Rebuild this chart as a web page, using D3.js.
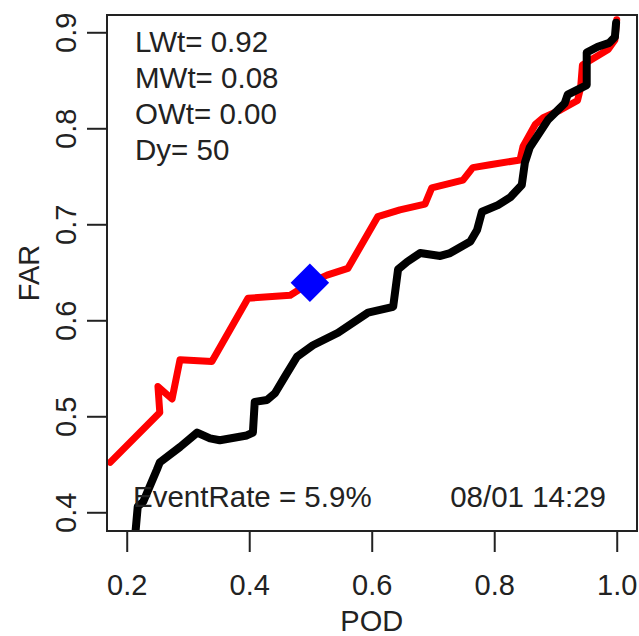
<!DOCTYPE html>
<html>
<head>
<meta charset="utf-8">
<script src="https://cdn.jsdelivr.net/npm/d3@7"></script>
<style>
  body { margin: 0; background: #fff; }
  svg text { font-family: "Liberation Sans", Arial, sans-serif; fill: #222; }
</style>
</head>
<body>
<svg id="chart" width="639" height="636"></svg>
<script>
// red curve (POD, FAR)
const redPod = [0.173, 0.254, 0.251, 0.274, 0.287, 0.339, 0.398, 0.467, 0.499, 0.527, 0.561, 0.610, 0.646, 0.687, 0.698, 0.749, 0.765, 0.793, 0.842, 0.847, 0.867, 0.880, 0.908, 0.936, 0.941, 0.944, 0.965, 0.986, 0.997, 1.000];
const redFar = [0.452, 0.504, 0.531, 0.518, 0.559, 0.557, 0.623, 0.626, 0.639, 0.647, 0.654, 0.708, 0.715, 0.721, 0.738, 0.746, 0.759, 0.762, 0.767, 0.781, 0.804, 0.811, 0.819, 0.829, 0.842, 0.866, 0.874, 0.882, 0.892, 0.913];

// black curve (POD, FAR)
const blackPod = [0.213, 0.218, 0.227, 0.249, 0.254, 0.287, 0.315, 0.336, 0.352, 0.396, 0.406, 0.409, 0.429, 0.442, 0.458, 0.478, 0.504, 0.545, 0.594, 0.635, 0.643, 0.658, 0.679, 0.712, 0.728, 0.761, 0.772, 0.780, 0.806, 0.826, 0.845, 0.850, 0.858, 0.888, 0.915, 0.920, 0.951, 0.951, 0.969, 0.988, 0.997, 0.999];
const blackFar = [0.370, 0.406, 0.411, 0.444, 0.452, 0.468, 0.483, 0.477, 0.475, 0.480, 0.483, 0.515, 0.517, 0.524, 0.541, 0.562, 0.574, 0.587, 0.608, 0.614, 0.653, 0.661, 0.670, 0.667, 0.670, 0.682, 0.694, 0.713, 0.720, 0.728, 0.741, 0.764, 0.780, 0.809, 0.826, 0.835, 0.845, 0.879, 0.885, 0.889, 0.895, 0.910];

// current point
const markPod = 0.499;
const markFar = 0.639;

const xTicks = [0.2, 0.4, 0.6, 0.8, 1.0];
const yTicks = [0.4, 0.5, 0.6, 0.7, 0.8, 0.9];

const infoLines = ["LWt= 0.92", "MWt= 0.08", "OWt= 0.00", "Dy= 50"];
const eventRate = "EventRate = 5.9%";
const stamp = "08/01 14:29";

const box = {left: 107, top: 15, right: 637, bottom: 531};

const svg = d3.select("#chart");

const x = d3.scaleLinear().domain([0.1678, 1.0331]).range([box.left, box.right]);
const y = d3.scaleLinear().domain([0.3805, 0.918]).range([box.bottom, box.top]);

svg.append("clipPath").attr("id", "plotclip")
  .append("rect")
    .attr("x", box.left).attr("y", box.top)
    .attr("width", box.right - box.left).attr("height", box.bottom - box.top);

const line = d3.line().x(d => x(d[0])).y(d => y(d[1]));

const plot = svg.append("g").attr("clip-path", "url(#plotclip)");

plot.append("path")
    .datum(d3.zip(redPod, redFar))
    .attr("d", line)
    .attr("fill", "none")
    .attr("stroke", "#ff0000")
    .attr("stroke-width", 7)
    .attr("stroke-linejoin", "round")
    .attr("stroke-linecap", "round");

plot.append("path")
    .datum(d3.zip(blackPod, blackFar))
    .attr("d", line)
    .attr("fill", "none")
    .attr("stroke", "#000")
    .attr("stroke-width", 8)
    .attr("stroke-linejoin", "round")
    .attr("stroke-linecap", "round");

plot.append("path")
    .attr("d", d3.symbol(d3.symbolSquare, 740)())
    .attr("transform", `translate(${x(markPod)},${y(markFar)}) rotate(45)`)
    .attr("fill", "#0000ff");

// frame
svg.append("rect")
    .attr("x", box.left).attr("y", box.top)
    .attr("width", box.right - box.left).attr("height", box.bottom - box.top)
    .attr("fill", "none").attr("stroke", "#222").attr("stroke-width", 2);

// x axis
const xAxis = svg.append("g").attr("transform", `translate(0,${box.bottom})`)
    .call(d3.axisBottom(x).tickValues(xTicks).tickFormat(d3.format(".1f")).tickSize(21).tickPadding(22));
xAxis.select(".domain").remove();
xAxis.selectAll("line").attr("stroke", "#222").attr("stroke-width", 2);
xAxis.selectAll("text").attr("font-size", 29).attr("fill", "#222");

// y axis, labels rotated like R
const yAxis = svg.append("g").attr("transform", `translate(${box.left},0)`)
    .call(d3.axisLeft(y).tickValues(yTicks).tickFormat(d3.format(".1f")).tickSize(20).tickPadding(0));
yAxis.select(".domain").remove();
yAxis.selectAll("line").attr("stroke", "#222").attr("stroke-width", 2);
yAxis.selectAll("text")
    .attr("font-size", 29).attr("fill", "#222")
    .attr("x", null).attr("dy", null)
    .attr("text-anchor", "middle")
    .attr("transform", "translate(-31,0) rotate(-90)");

svg.append("text")
    .attr("x", x(0.6)).attr("y", 631)
    .attr("text-anchor", "middle").attr("font-size", 29)
    .text("POD");

svg.append("text")
    .attr("transform", `translate(39,${(box.top + box.bottom) / 2}) rotate(-90)`)
    .attr("text-anchor", "middle").attr("font-size", 29)
    .text("FAR");

svg.selectAll(".info").data(infoLines).enter().append("text")
    .attr("class", "info")
    .attr("x", 135).attr("y", (d, i) => 52 + i * 36)
    .attr("font-size", 29.5)
    .text(d => d);

svg.append("text").attr("x", 133).attr("y", 507).attr("font-size", 29.5).text(eventRate);
svg.append("text").attr("x", 606).attr("y", 507).attr("font-size", 29.5)
    .attr("text-anchor", "end").text(stamp);
</script>
</body>
</html>
